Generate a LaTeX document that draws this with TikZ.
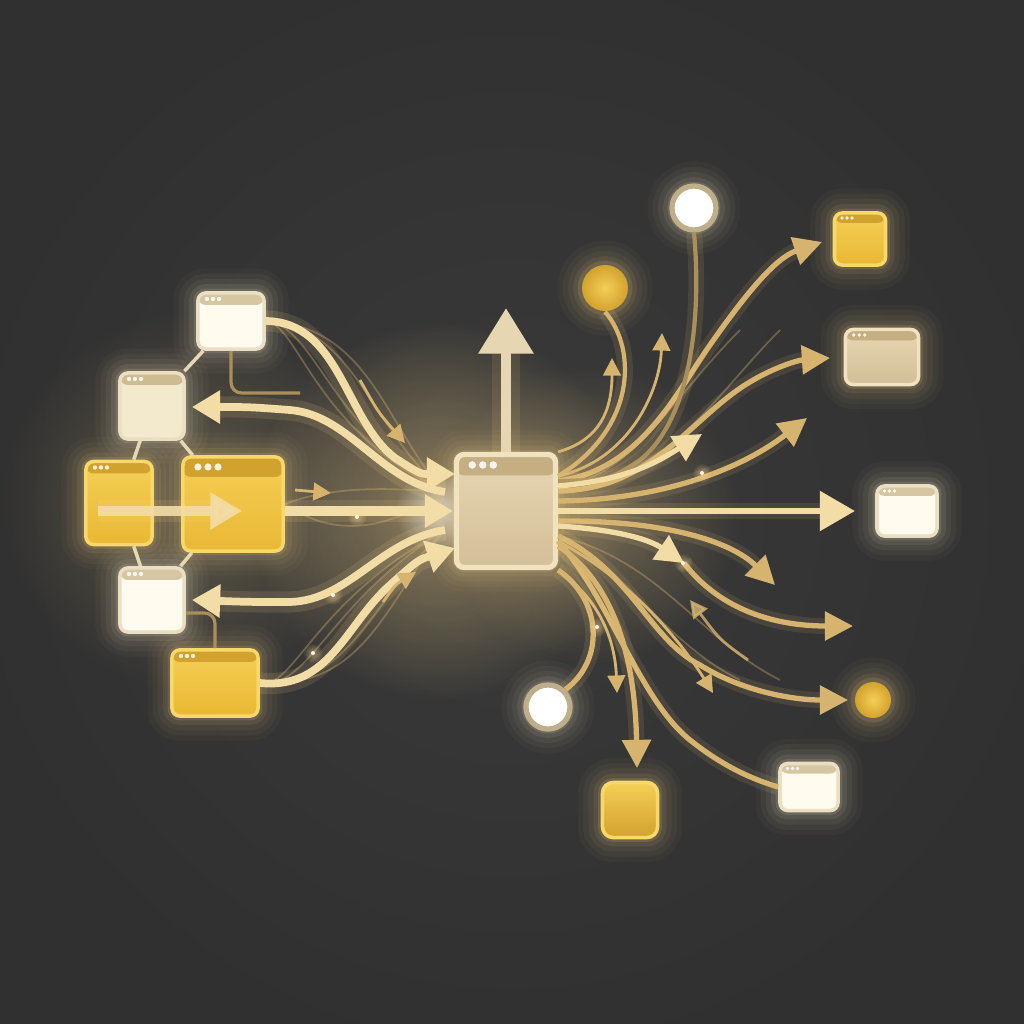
\documentclass[tikz,border=0pt]{standalone}
\usetikzlibrary{arrows.meta, fadings}

\definecolor{bg}{HTML}{303030}
\definecolor{bglt}{HTML}{3A3A3A}
\definecolor{glow}{HTML}{FFD98A}
\definecolor{glowwhite}{HTML}{FFF1CC}
\definecolor{flow}{HTML}{D6B470}
\definecolor{flowlt}{HTML}{F3DDA6}
\definecolor{flowdim}{HTML}{A98F5C}
\definecolor{linkc}{HTML}{E6D8B2}
\definecolor{cream}{HTML}{FFFBEE}
\definecolor{creambar}{HTML}{D6C7A2}
\definecolor{creamedge}{HTML}{EADFC2}
\definecolor{paper}{HTML}{F3E9CD}
\definecolor{paperbar}{HTML}{CDBB91}
\definecolor{gold}{HTML}{E9B834}
\definecolor{goldlt}{HTML}{F5CF56}
\definecolor{golddk}{HTML}{D2A22E}
\definecolor{goldedge}{HTML}{F7D868}
\definecolor{sand}{HTML}{D3BF97}
\definecolor{sandlt}{HTML}{E6D6B2}
\definecolor{sanddk}{HTML}{C4AE82}
\definecolor{sandedge}{HTML}{F1E3BF}
\definecolor{ringedge}{HTML}{BFAE8A}

\tikzfading[name=softglow, inner color=transparent!0, outer color=transparent!100]

\tikzset{
  halo/.style={
    preaction={draw=#1, line width=14pt, opacity=0.03},
    preaction={draw=#1, line width=11pt, opacity=0.04},
    preaction={draw=#1, line width=8pt, opacity=0.05},
    preaction={draw=#1, line width=5pt, opacity=0.08},
    preaction={draw=#1, line width=2.5pt, opacity=0.12}},
  halo/.default=glow,
  winbox/.style n args={3}{rectangle, rounded corners=2.2pt, inner sep=0pt,
    line width=1pt, fill=#1,
    path picture={
      \fill[#2] ([yshift=2pt]path picture bounding box.north west)
        rectangle ([yshift=-#3]path picture bounding box.north east);
      \foreach \k in {0,1,2}
        \fill[white, opacity=0.85]
          ([xshift=0.75*#3+\k*0.5*#3, yshift=-0.5*#3]path picture bounding box.north west)
          circle [radius=0.18*#3];
    }},
  whitetab/.style={winbox={cream}{creambar}{#1}, draw=creamedge, halo=glowwhite},
  whitetab/.default=0.12cm,
  papertab/.style={winbox={paper}{paperbar}{#1}, draw=creamedge, halo=glowwhite},
  papertab/.default=0.12cm,
  goldtab/.style={winbox={gold}{golddk}{#1}, top color=goldlt, bottom color=gold,
    draw=goldedge, halo},
  goldtab/.default=0.12cm,
  sandtab/.style={winbox={sand}{sanddk}{#1}, top color=sandlt, bottom color=sand,
    draw=sandedge, line width=1.5pt, halo},
  sandtab/.default=0.12cm,
  ringnode/.style={circle, inner sep=0pt, fill=white, draw=ringedge,
    line width=1.5pt, halo=glowwhite},
  ballnode/.style={circle, inner sep=0pt, inner color=goldlt, outer color=golddk, halo},
  tilenode/.style={rectangle, rounded corners=3pt, inner sep=0pt, top color=goldlt,
    bottom color=golddk, draw=goldedge, line width=1pt, halo},
  link/.style={draw=linkc, line width=1pt},
  wire/.style={draw=flowdim, line width=0.9pt, rounded corners=3pt},
  flowin/.style={draw=flowlt, line width=2.2pt, -{Triangle[width=9pt,length=8pt]},
    preaction={draw=glow, line width=6pt, opacity=0.12}},
  outflow/.style={draw=flow, line width=1.5pt, -{Triangle[width=8pt,length=8pt]},
    preaction={draw=glow, line width=4.5pt, opacity=0.1}},
  thinflow/.style={draw=flow, line width=0.8pt, -{Triangle[width=5pt,length=5pt]}},
  strand/.style={draw=flow, line width=0.5pt, opacity=0.35},
  spark/.style={fill=white, opacity=0.9},
  bloom/.style={fill=#1, path fading=softglow}
}

\begin{document}
\begin{tikzpicture}[x=0.01cm, y=-0.01cm]

% backdrop
\fill[bg] (0,0) rectangle (1024,1024);
\useasboundingbox (0,0) rectangle (1024,1024);
\shade[inner color=bglt, outer color=bg] (512,512) circle (560);

% soft light where the flows meet
\fill[bloom=glow, opacity=0.45] (440,511) circle (190);
\fill[bloom=white, opacity=0.6] (440,511) circle (45);
\fill[bloom=glow, opacity=0.3] (590,515) circle (150);
\fill[bloom=glow, opacity=0.22] (190,500) circle (190);

% left cluster
\node[whitetab, minimum width=0.66cm, minimum height=0.56cm] (tabA) at (231,321) {};
\node[papertab, minimum width=0.64cm, minimum height=0.66cm] (tabB) at (152,406) {};
\node[goldtab, minimum width=0.66cm, minimum height=0.83cm] (tabC) at (119,503) {};
\node[goldtab=0.2cm, minimum width=1.00cm, minimum height=0.94cm] (tabD) at (233,504) {};
\node[whitetab, minimum width=0.64cm, minimum height=0.64cm] (tabE) at (152,600) {};
\node[goldtab, minimum width=0.86cm, minimum height=0.66cm] (tabF) at (215,683) {};

% hub
\node[sandtab=0.21cm, minimum width=0.99cm, minimum height=1.13cm] (hub) at (506,511) {};

% right side
\node[ringnode, minimum size=0.44cm] (ringN) at (694,208) {};
\node[ballnode, minimum size=0.46cm] (ballN) at (605,288) {};
\node[goldtab=0.1cm, minimum width=0.51cm, minimum height=0.52cm] (tabG) at (860,239) {};
\node[sandtab=0.11cm, minimum width=0.73cm, minimum height=0.55cm, line width=1pt] (tabH) at (882,357) {};
\node[whitetab=0.1cm, minimum width=0.60cm, minimum height=0.50cm] (tabI) at (907,511) {};
\node[ballnode, minimum size=0.36cm] (ballE) at (873,700) {};
\node[whitetab=0.1cm, minimum width=0.58cm, minimum height=0.47cm] (tabJ) at (809,787) {};
\node[tilenode, minimum size=0.55cm] (tileS) at (630,810) {};
\node[ringnode, minimum size=0.44cm] (ringS) at (548,707) {};

% free ends
\coordinate (inTop) at (455,474);
\coordinate (inMid) at (453,511);
\coordinate (inBot) at (455,548);
\coordinate (backB) at (192,407);
\coordinate (backE) at (192,600);
\coordinate (mergeN) at (445,492);
\coordinate (mergeS) at (445,530);
\coordinate (pushTail) at (98,511);
\coordinate (pushTip) at (242,511);
\coordinate (wireA) at (300,393);
\coordinate (tipUp) at (506,308);
\coordinate (tipG) at (822,242);
\coordinate (tipH) at (830,358);
\coordinate (tipR3) at (807,418);
\coordinate (tipI) at (855,511);
\coordinate (tipR5) at (775,585);
\coordinate (midR6) at (684,563);
\coordinate (tipR6) at (853,626);
\coordinate (tipBall) at (848,700);
\coordinate (tipTile) at (637,768);
\coordinate (tipR10) at (617,693);
\coordinate (tipR11) at (713,693);
\coordinate (backR) at (690,600);
\coordinate (tailR) at (748,660);
\coordinate (tipU2) at (612,358);
\coordinate (tipU3) at (662,333);
\coordinate (tipU5) at (702,434);

% links inside the cluster
\draw[link] (tabA) -- (tabB);
\draw[link] (tabB) -- (tabC);
\draw[link] (tabB) -- (tabD);
\draw[link] (tabC) -- (tabE);
\draw[link] (tabD) -- (tabE);
\draw[wire] (tabA.south) |- (wireA);
\draw[wire] ([yshift=-0.13cm]tabE.east) -| (tabF.north);

% fibres of the left bundle
\foreach \s in {-36,-20,20,36}
  \draw[strand] (tabA.east) .. controls (335+\s,325) and (350+\s,430) .. (mergeN);
\foreach \s in {-36,-20,20,36}
  \draw[strand] (tabF.east) .. controls (330+\s,690) and (350+\s,600) .. (mergeS);
\foreach \s in {-24,24}
  \draw[strand] (tabD.east) .. controls (330,511+\s) and (380,511+\s) .. (mergeN);

% into the hub
\draw[flowin] (tabA.east) .. controls (340,322) and (345,420) .. (395,458)
  .. controls (420,474) .. (inTop);
\draw[flowin, line width=2.6pt] (tabD.east |- inMid) -- (inMid);
\draw[flowin] (tabF.east) .. controls (330,690) and (345,625) .. (390,585)
  .. controls (418,560) .. (inBot);
\draw[flowin] (mergeN) .. controls (380,482) and (350,415) .. (290,410)
  .. controls (250,407) .. (backB);
\draw[flowin] (mergeS) .. controls (380,540) and (350,600) .. (290,602)
  .. controls (250,602) .. (backE);
\draw[flowin, line width=2.8pt, opacity=0.9,
  -{Triangle[width=10pt,length=9pt]}] (pushTail) -- (pushTip);

% small darts on the left
\draw[thinflow] (295,490) -- (331,493);
\draw[thinflow] (360,380) .. controls (378,412) .. (405,443);
\draw[thinflow] (383,602) .. controls (395,585) .. (416,572);

% up
\draw[draw=sandlt, line width=3pt, -{Triangle[width=15pt,length=13pt]},
  preaction={draw=glow, line width=8pt, opacity=0.1}] (hub.north) -- (tipUp);

% fibres of the right fan
\foreach \s in {-20,20}
  \draw[strand] ([yshift=0.25cm]hub.east) .. controls (650+\s,480) and (690+\s,400) .. (760+\s,330);
\foreach \s in {-20,20}
  \draw[strand] ([yshift=-0.25cm]hub.east) .. controls (640+\s,560) and (680+\s,640) .. (760+\s,680);

% out of the hub
\draw[outflow] ([yshift=0.3cm]hub.east) .. controls (640,470) and (675,395) .. (710,345)
  .. controls (745,295) and (775,258) .. (tipG);
\draw[outflow] ([yshift=0.2cm]hub.east) .. controls (650,490) and (690,420) .. (745,385)
  .. controls (775,366) and (800,360) .. (tipH);
\draw[outflow] ([yshift=0.1cm]hub.east) .. controls (660,500) and (740,470) .. (tipR3);
\draw[outflow, draw=flowlt, line width=1.8pt, -{Triangle[width=11pt,length=10pt]}]
  (hub.east) -- (tipI);
\draw[outflow] ([yshift=-0.1cm]hub.east) .. controls (660,520) and (730,540) .. (tipR5);
\draw[outflow, draw=flowlt] ([yshift=-0.15cm]hub.east) .. controls (620,530) and (650,540) .. (midR6);
\draw[outflow] (midR6) .. controls (712,600) and (760,626) .. (tipR6);
\draw[outflow] ([yshift=-0.25cm]hub.east) .. controls (630,570) and (650,640) .. (700,665)
  .. controls (740,690) and (790,700) .. (tipBall);
\draw[outflow, -] ([yshift=-0.3cm]hub.east) .. controls (610,600) and (640,700) .. (690,740)
  .. controls (725,768) and (755,780) .. (tabJ.west);
\draw[outflow] ([yshift=-0.35cm]hub.east) .. controls (610,580) and (635,650) .. (tipTile);
\draw[thinflow] (hub.south east) .. controls (600,600) and (615,640) .. (tipR10);
\draw[thinflow] ([yshift=-0.3cm]hub.east) .. controls (630,580) and (680,640) .. (tipR11);
\draw[thinflow, opacity=0.8] (tailR) .. controls (720,640) .. (backR);
\draw[outflow, -] (hub.south east) .. controls (602,600) and (605,660) .. (ringS.north east);

% towards the top
\draw[outflow, -, line width=1.2pt] (ballN.south) .. controls (638,350) and (635,430) .. ([yshift=0.35cm]hub.east);
\draw[thinflow] (hub.north east) .. controls (600,440) and (612,410) .. (tipU2);
\draw[thinflow] ([yshift=0.35cm]hub.east) .. controls (630,460) and (660,390) .. (tipU3);
\draw[outflow, -, draw=flowdim, line width=1.2pt] (ringN.south) .. controls (702,320) and (690,420) .. (640,460)
  .. controls (610,480) .. ([yshift=0.3cm]hub.east);
\draw[outflow, draw=flowlt] ([yshift=0.25cm]hub.east) .. controls (630,480) and (660,460) .. (tipU5);

% sparks
\foreach \p in {(597,627),(683,563),(702,473),(357,517),(333,595),(313,653)} {
  \fill[bloom=glow, opacity=0.5] \p circle (10);
  \fill[spark] \p circle (2);
}

\end{tikzpicture}
\end{document}
